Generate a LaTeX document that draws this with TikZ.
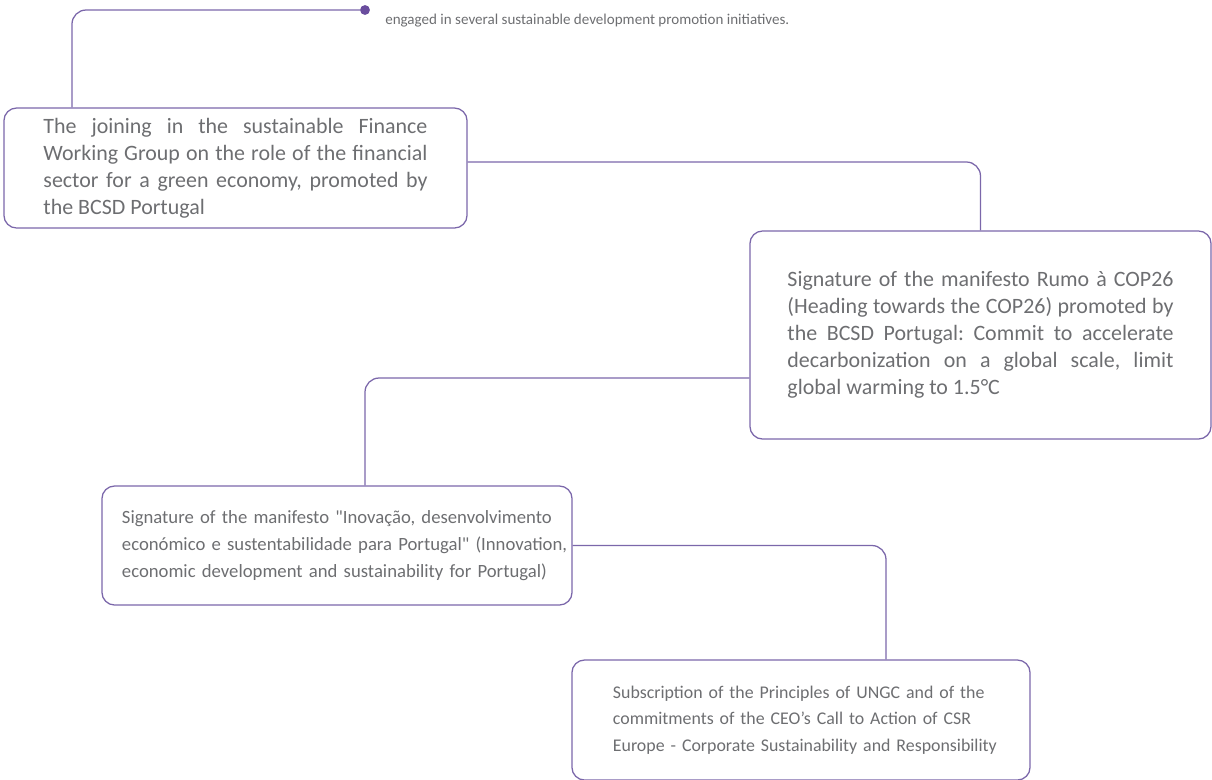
\documentclass[tikz,border=0pt]{standalone}
\usepackage{fontspec}
\setmainfont{Carlito}
\frenchspacing
\definecolor{linepurple}{HTML}{7B67AA}
\definecolor{dotpurple}{HTML}{6A4D9E}
\definecolor{textgray}{HTML}{6D6E71}
\begin{document}
\begin{tikzpicture}[x=0.025cm, y=-0.025cm,
  box/.style={draw=linepurple, line width=0.9pt, rounded corners=9pt,
    text=textgray, inner sep=0pt, font=\fontsize{15.6}{19.2}\selectfont},
  leftbox/.style={box, align=left},
  link/.style={draw=linepurple, line width=0.9pt, rounded corners=10pt}]
\useasboundingbox (0,0) rectangle (1212,779);
% start of the line
\node[circle, fill=dotpurple, inner sep=0pt, minimum size=7pt] (dot) at (365,10) {};
\node[anchor=base west, text=textgray, inner sep=0pt,
  font=\fontsize{10.7}{14}\selectfont] (intro) at (385,24)
  {engaged in several sustainable development promotion initiatives.};
% boxes
\node[box, minimum width=11.575cm, minimum height=3cm, text width=9.6cm,
  align=justify] (finance) at (235.5,168)
  {The joining in the sustainable Finance\linebreak
  Working Group on the role of the financial\linebreak
  sector for a green economy, promoted by\linebreak
  the BCSD Portugal};
\node[box, minimum width=11.525cm, minimum height=5.2cm, text width=9.65cm,
  align=justify] (cop) at (980.5,335)
  {Signature of the manifesto Rumo à COP26\linebreak
  (Heading towards the COP26) promoted by\linebreak
  the BCSD Portugal: Commit to accelerate\linebreak
  decarbonization on a global scale, limit\linebreak
  global warming to 1.5°C};
\node[leftbox, minimum width=11.75cm, minimum height=2.975cm,
  text width=10.75cm, font=\fontsize{13.3}{19.2}\selectfont] (inovacao) at (337,545.5)
  {\mbox{Signature of the manifesto \textquotedbl Inovação, desenvolvimento}\\
  \mbox{económico e sustentabilidade para Portugal\textquotedbl{} (Innovation,}\\
  \mbox{economic development and sustainability for Portugal)}};
\node[leftbox, minimum width=11.45cm, minimum height=3cm,
  text width=9.4cm, font=\fontsize{12.7}{18.8}\selectfont] (ungc) at (801,720)
  {\mbox{Subscription of the Principles of UNGC and of the}\\
  \mbox{commitments of the CEO’s Call to Action of CSR}\\
  \mbox{Europe - Corporate Sustainability and Responsibility}};
% bends of the line
\coordinate (bend1) at (72,0);
\coordinate (bend3) at (365,0);
\coordinate (bend4) at (886,0);
% connecting lines
\draw[link] (dot) -| (finance.north -| bend1);
\draw[link] ([yshift=0.15cm]finance.east) -| (cop.north);
\draw[link] ([yshift=-1.075cm]cop.west) -| (inovacao.north -| bend3);
\draw[link] (inovacao.east) -| (ungc.north -| bend4);
\end{tikzpicture}
\end{document}
